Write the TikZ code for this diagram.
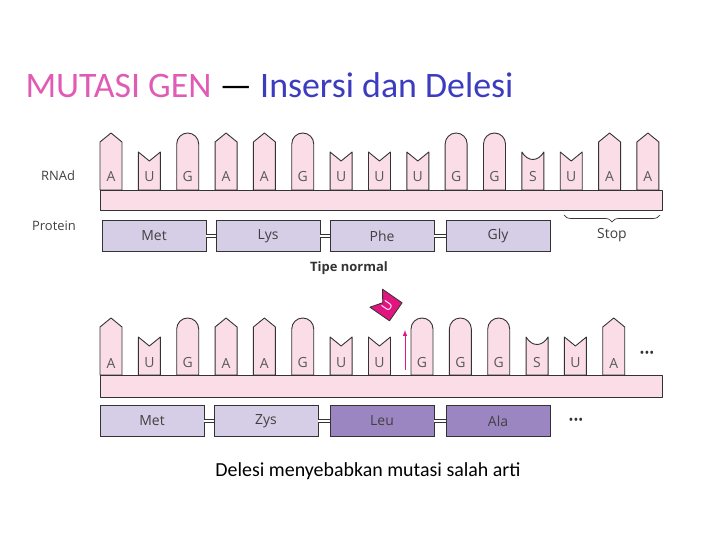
\documentclass[tikz,border=0pt]{standalone}
\usepackage{fontspec}
\setmainfont{Carlito}
\setsansfont{Open Sans}
\usetikzlibrary{decorations.pathreplacing}

\definecolor{rnapink}{HTML}{FADDE6}
\definecolor{protlight}{HTML}{D6CDE6}
\definecolor{protdark}{HTML}{9C86C2}
\definecolor{titlepink}{HTML}{E05CB4}
\definecolor{titleblue}{HTML}{3C3CC0}
\definecolor{tagmagenta}{HTML}{E0157F}
\definecolor{edge}{HTML}{333333}

\tikzset{
  tooth/.style={draw=edge, fill=rnapink, line width=0.9pt, line join=round},
  base letter/.style={font=\sffamily\fontsize{14}{14}\selectfont, text=black!65},
  protbox/.style={draw=edge, line width=0.9pt, minimum width=104bp, minimum height=31bp,
    inner sep=0pt, font=\sffamily\fontsize{14}{14}\selectfont, text=black!75},
  link/.style={draw=edge, double=white, double distance=2.5pt, line width=0.7pt},
  side label/.style={font=\sffamily\fontsize{13}{13}\selectfont, text=black!75},
  dots/.style={font=\sffamily\fontsize{13}{13}\selectfont, text=edge},
  pics/toothA/.style={code={\path[tooth] (-11,0) -- (-11,-48) -- (0,-57) -- (11,-48) -- (11,0) -- cycle;}},
  pics/toothG/.style={code={\path[tooth] (-11,0) -- (-11,-46) arc[start angle=180, end angle=360, radius=11] -- (11,0) -- cycle;}},
  pics/toothU/.style={code={\path[tooth] (-11,0) -- (-11,-38) -- (0,-29) -- (11,-38) -- (11,0) -- cycle;}},
  pics/toothS/.style={code={\path[tooth] (-11,0) -- (-11,-38) .. controls (-5,-28) and (5,-28) .. (11,-38) -- (11,0) -- cycle;}}
}

\begin{document}
\begin{tikzpicture}[x=1bp, y=-1bp]
\useasboundingbox (0,0) rectangle (720,540);

% Title
\node[anchor=west, font=\fontsize{36}{36}\selectfont] (title) at (22,85)
  {\textcolor{titlepink}{MUTASI GEN} — \textcolor{titleblue}{Insersi dan Delesi}};

% Normal type: mRNA teeth and bar
\foreach \b [count=\i from 0] in {A,U,G,A,A,G,U,U,U,G,G,S,U,A,A}
  \pic at ({111+38.35*\i},190) {tooth\b};
\foreach \b [count=\i from 0] in {A,U,G,A,A,G,U,U,U,G,G,S,U,A,A}
  \node[base letter] (n\i) at ({111+38.35*\i},177) {\b};
\draw[tooth] (100,190) rectangle (662,210);

\node[side label] (rnalabel) at (58,176) {RNAd};
\node[side label] (protlabel) at (54,226) {Protein};

% Normal type: protein
\node[protbox, fill=protlight] (met) at (154,236) {Met};
\node[protbox, fill=protlight] (lys) at (268,236) {Lys};
\node[protbox, fill=protlight] (phe) at (382,236) {Phe};
\node[protbox, fill=protlight] (gly) at (498,236) {Gly};
\draw[link] (met) -- (lys);
\draw[link] (lys) -- (phe);
\draw[link] (phe) -- (gly);

\coordinate (stopL) at (564,215);
\coordinate (stopR) at (660,215);
\draw[edge, line width=0.7pt, decorate, decoration={brace, amplitude=7pt, mirror}] (stopL) -- (stopR)
  node[midway, below=10bp, side label, font=\sffamily\fontsize{14}{14}\selectfont] (stop) {Stop};

\node[font=\sffamily\bfseries\fontsize{13}{13}\selectfont, text=black!80] (normal) at (349,268) {Tipe normal};

% Mutated type: mRNA teeth and bar
\foreach \b [count=\i from 0] in {A,U,G,A,A,G,U,U}
  \pic at ({111+38.35*\i},375) {tooth\b};
\foreach \b [count=\i from 0] in {G,G,G,S,U,A}
  \pic at ({422+38.35*\i},375) {tooth\b};
\foreach \b [count=\i from 0] in {A,U,G,A,A,G,U,U}
  \node[base letter] (m\i) at ({111+38.35*\i},363) {\b};
\foreach \b [count=\i from 0] in {G,G,G,S,U,A}
  \node[base letter] (k\i) at ({422+38.35*\i},363) {\b};
\draw[tooth] (100,375) rectangle (662,397);
\node[dots] (dots1) at (647,354) {•••};

% Inserted base
\path[draw=edge, fill=tagmagenta, line width=0.8pt, line join=round]
  (389.5,320.8) -- (369.9,307.2) -- (382.7,302.7) -- (382.5,289.2) -- (402.1,302.8) -- cycle;
\node[font=\sffamily\fontsize{13}{13}\selectfont, text=white, rotate=55] (ins) at (387,306) {U};
\coordinate (arrowtail) at (405,370);
\coordinate (arrowhead) at (405,330);
\draw[tagmagenta, line width=1pt, -latex] (arrowtail) -- (arrowhead);

% Mutated type: protein
\node[protbox, fill=protlight] (met2) at (152,421) {Met};
\node[protbox, fill=protlight] (zys) at (266,421) {Zys};
\node[protbox, fill=protdark] (leu) at (382,421) {Leu};
\node[protbox, fill=protdark] (ala) at (498,421) {Ala};
\draw[link] (met2) -- (zys);
\draw[link] (zys) -- (leu);
\draw[link] (leu) -- (ala);
\node[dots] (dots2) at (576,421) {•••};

\node[font=\fontsize{20}{20}\selectfont] (caption) at (368,471) {Delesi menyebabkan mutasi salah arti};
\end{tikzpicture}
\end{document}
